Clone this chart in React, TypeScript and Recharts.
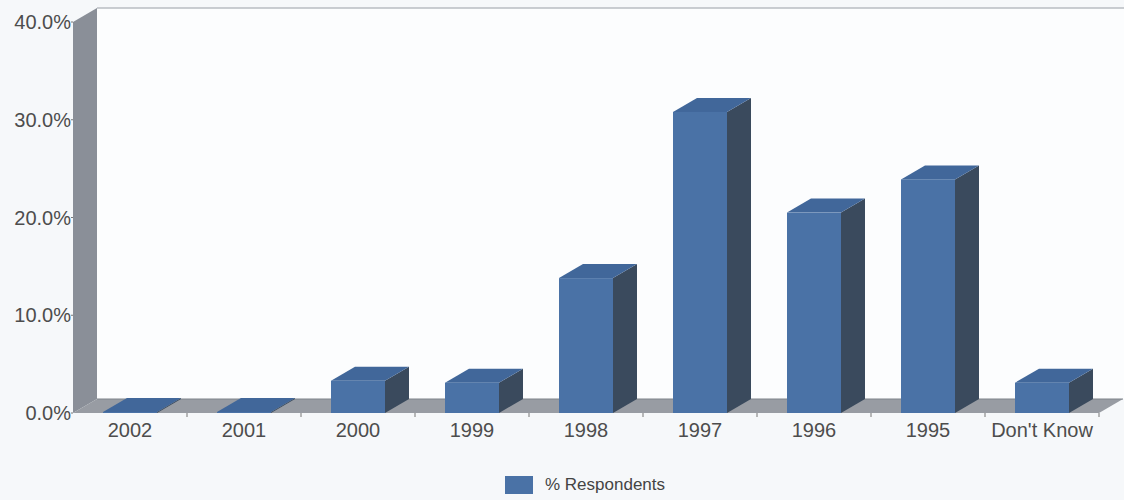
import React from 'react';
import { BarChart, Bar, XAxis, YAxis, Legend, ReferenceArea } from 'recharts';

const categories = ['2002', '2001', '2000', '1999', '1998', '1997', '1996', '1995', "Don't Know"];
const respondents = [0, 0, 3.3, 3.1, 13.8, 30.8, 20.5, 23.9, 3.1];
const yTicks = [0, 10, 20, 30, 40];
const seriesName = '% Respondents';

const data = categories.map((name, i) => ({ name, value: respondents[i] }));

const DX = 24;
const DY = 14;
const FONT = '"Liberation Sans", Arial, sans-serif';

const Walls = (props: any) => {
  const { x, y, width, height } = props;
  const n = categories.length;
  const bottom = y + height;
  const ticks = [];
  for (let i = 1; i <= n; i++) {
    const tx = x + (i * width) / n;
    ticks.push(<line key={i} x1={tx} y1={bottom} x2={tx} y2={bottom + 4} stroke="#777" strokeWidth={1} />);
  }
  return (
    <g>
      <rect x={x + DX} y={y - DY} width={width + 10} height={height} fill="#fcfdfe" />
      <line x1={x + DX} y1={y - DY} x2={x + DX + width + 10} y2={y - DY} stroke="#b8bcc2" strokeWidth={1.5} />
      <polygon
        points={`${x},${y} ${x + DX},${y - DY} ${x + DX},${bottom - DY} ${x},${bottom}`}
        fill="#8a8f98"
      />
      <polygon
        points={`${x},${bottom} ${x + DX},${bottom - DY} ${x + width + DX},${bottom - DY} ${x + width},${bottom}`}
        fill="#989ca3"
      />
      <line x1={x + DX} y1={bottom - DY} x2={x + width + DX} y2={bottom - DY} stroke="#7e838b" strokeWidth={1} />
      {ticks}
    </g>
  );
};

const Bar3D = (props: any) => {
  const { x, y, width, height } = props;
  if (x == null || y == null) return null;
  const h = Math.max(height, 0);
  return (
    <g>
      <polygon
        points={`${x + width},${y} ${x + width + DX},${y - DY} ${x + width + DX},${y + h - DY} ${x + width},${y + h}`}
        fill="#3a4a5d"
      />
      <polygon
        points={`${x},${y} ${x + DX},${y - DY} ${x + width + DX},${y - DY} ${x + width},${y}`}
        fill="#41679a"
      />
      <rect x={x} y={y} width={width} height={h} fill="#4a72a6" />
    </g>
  );
};

const LegendContent = () => (
  <div
    style={{
      display: 'flex',
      alignItems: 'center',
      height: 30,
      paddingLeft: 505,
      fontFamily: FONT,
      fontSize: 17,
      color: '#444',
    }}
  >
    <div style={{ width: 28, height: 18, background: '#4a72a6', marginRight: 12 }} />
    <span>{seriesName}</span>
  </div>
);

export default function App() {
  return (
    <div style={{ position: 'absolute', left: 0, top: 0, width: 1124, height: 500, background: '#f6f8fa' }}>
      <BarChart
        width={1124}
        height={500}
        data={data}
        margin={{ top: 22, right: 25, bottom: 0, left: 13 }}
        barSize={54}
      >
        <ReferenceArea y1={0} y2={40} shape={Walls} ifOverflow="visible" />
        <XAxis
          dataKey="name"
          interval={0}
          axisLine={false}
          tickLine={false}
          tickSize={0}
          tickMargin={10}
          height={57}
          tick={{ fontSize: 20, fill: '#4d4d4d', fontFamily: FONT }}
        />
        <YAxis
          type="number"
          domain={[0, 40]}
          ticks={yTicks}
          width={60}
          axisLine={false}
          tickSize={2}
          tickMargin={0}
          tickLine={{ stroke: '#777' }}
          tickFormatter={(v: number) => `${v.toFixed(1)}%`}
          tick={{ fontSize: 20, fill: '#4d4d4d', fontFamily: FONT }}
        />
        <Bar dataKey="value" name={seriesName} shape={Bar3D} minPointSize={1} isAnimationActive={false} />
        <Legend verticalAlign="bottom" wrapperStyle={{ left: 0, width: 1124 }} content={LegendContent} />
      </BarChart>
    </div>
  );
}
